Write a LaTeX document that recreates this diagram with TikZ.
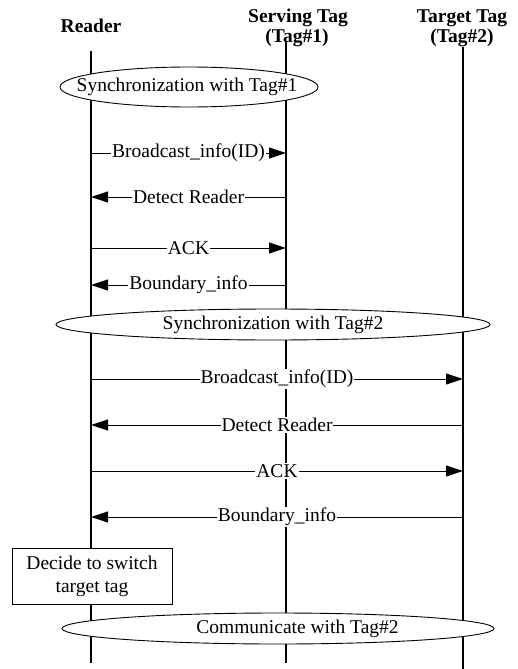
\documentclass[tikz,border=0pt]{standalone}
\usepackage{fontspec}
\setmainfont{Liberation Serif}
\usetikzlibrary{arrows.meta,shapes.geometric}
\begin{document}
\begin{tikzpicture}[x=1pt,y=-1pt,
  font=\fontsize{19.5}{22}\selectfont,
  life/.style={line width=1.1pt},
  msg/.style={line width=0.9pt,-{Triangle[length=17pt,width=11pt]}},
  lbl/.style={fill=white,inner sep=1pt},
  phase/.style={ellipse,draw,line width=0.9pt,fill=white,inner sep=0pt},
  head/.style={font=\fontsize{19.5}{20}\selectfont\bfseries}]
\useasboundingbox (0,0) rectangle (518,669);
% headers
\node[head,anchor=base] (hR)  at (91,33)  {Reader};
\node[head,anchor=base] (hS1) at (298,23) {Serving Tag};
\node[head,anchor=base] (hS2) at (297,43) {(Tag\#1)};
\node[head,anchor=base] (hT1) at (462,23) {Target Tag};
\node[head,anchor=base] (hT2) at (462,43) {(Tag\#2)};
% lifelines
\coordinate (rTop) at (91,51);  \coordinate (rBot) at (91,663);
\coordinate (sTop) at (286,42); \coordinate (sBot) at (286,663);
\coordinate (tTop) at (463,47); \coordinate (tBot) at (463,669);
\draw[life] (rTop) -- (rBot);
\draw[life] (sTop) -- (sBot);
\draw[life] (tTop) -- (tBot);
% phases
\node[phase,minimum width=258pt,minimum height=40pt] (e1) at (189,87) {};
\node (e1t) at (187,87) {Synchronization with Tag\#1};
\node[phase,minimum width=434pt,minimum height=31pt] (e2) at (273,324.5) {};
\node (e2t) at (273,324.5) {Synchronization with Tag\#2};
\node[phase,minimum width=432pt,minimum height=31pt] (e3) at (278,628.5) {};
\node (e3t) at (297.5,628.5) {Communicate with Tag\#2};
\node[draw,line width=0.9pt,fill=white,minimum width=160pt,minimum height=56pt,
      inner sep=0pt,align=center,font=\fontsize{19.5}{23}\selectfont] (dec) at (92,576)
      {Decide to switch\\target tag};
% message end points
\foreach \n/\y in {1/153,2/197,3/248,4/285,5/379,6/425,7/471,8/517}{
  \coordinate (r\n) at (91,\y);
  \coordinate (s\n) at (286,\y);
  \coordinate (t\n) at (463,\y);
}
\draw[msg] (r1) -- node[lbl] (m1) {Broadcast\_info(ID)} (s1);
\draw[msg] (s2) -- node[lbl] (m2) {Detect Reader} (r2);
\draw[msg] (r3) -- node[lbl] (m3) {ACK} (s3);
\draw[msg] (s4) -- node[lbl] (m4) {Boundary\_info} (r4);
\draw[msg] (r5) -- node[lbl] (m5) {Broadcast\_info(ID)} (t5);
\draw[msg] (t6) -- node[lbl] (m6) {Detect Reader} (r6);
\draw[msg] (r7) -- node[lbl] (m7) {ACK} (t7);
\draw[msg] (t8) -- node[lbl] (m8) {Boundary\_info} (r8);
\end{tikzpicture}
\end{document}
